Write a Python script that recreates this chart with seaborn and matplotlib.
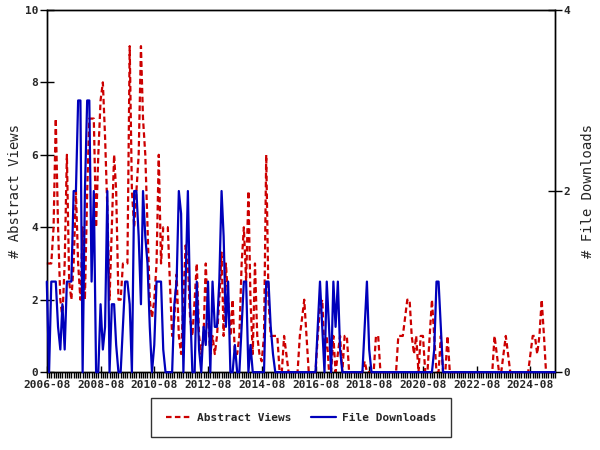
import matplotlib
matplotlib.use("Agg")
import matplotlib.pyplot as plt
import matplotlib.dates as mdates
import numpy as np
import pandas as pd
import seaborn as sns

# monthly counts, starting 2006-08
start_month = "2006-08-01"
end_month = "2025-07-01"

abstract_views = [
    3, 3, 3, 4, 7, 4, 2, 1.5, 3, 6,
    2.5, 2, 3, 5, 3, 2, 4, 2, 5, 7,
    7, 7, 4, 6, 7.5, 8, 6.5, 4.5, 2, 4,
    6, 5, 2, 2, 3, 3, 3, 9, 5, 4,
    5, 6, 9, 7, 6, 4, 2, 1.5, 2, 3,
    6, 3, 4, 4, 4, 2.5, 1, 1.5, 2.7, 1,
    0.5, 2, 3.5, 3, 1.5, 1, 2, 3, 1, 0.5,
    1, 3, 1.5, 0.5, 1, 0.5, 1, 2, 3.3, 1,
    3, 2, 1, 2, 0.5, 0.5, 1, 3, 4, 2.5,
    5, 2, 0.5, 3, 1, 0.5, 0.3, 1, 6, 2,
    1, 1, 1, 1, 0, 0, 1, 0.5, 0, 0,
    0, 0, 0, 1, 1.5, 2, 1, 0, 0, 0,
    0, 1, 1.8, 2, 0.5, 1, 0, 0, 1, 0,
    0.5, 1, 0, 1, 1, 0, 0, 0, 0, 0,
    0, 0, 0.3, 0, 0, 0, 0, 1, 1, 0,
    0, 0, 0, 0, 0, 0, 0, 1, 1, 1,
    1.5, 2, 2, 1, 0.5, 1, 0, 1, 1, 0,
    0, 1, 2, 1, 0, 0, 1, 0, 0, 1,
    0, 0, 0, 0, 0, 0, 0, 0, 0, 0,
    0, 0, 0, 0, 0, 0, 0, 0, 0, 0,
    1, 0.5, 0, 0, 0.5, 1, 0.5, 0, 0, 0,
    0, 0, 0, 0, 0, 0, 0.5, 1, 1, 0.5,
    1, 2, 1, 0, 0, 0, 0, 0,
]

file_downloads = [
    1, 0, 1, 1, 1, 0.5, 0.25, 0.75, 0.25, 1,
    1, 1, 2, 2, 3, 3, 0, 2, 3, 3,
    1, 2, 0, 0, 0.75, 0.25, 0.5, 2, 0, 0.75,
    0.75, 0.3, 0, 0, 0.5, 1, 1, 0.75, 0, 2,
    2, 1.5, 0.75, 2, 1.5, 1.2, 0.5, 0, 0.3, 1,
    1, 1, 0.25, 0, 0, 0, 0, 0.75, 1, 2,
    1.75, 0, 1, 2, 0.75, 0, 0, 1, 0.25, 0,
    0.5, 0.3, 1, 0, 1, 0.5, 0.5, 1, 2, 1.5,
    0.5, 1, 0, 0, 0.3, 0, 0, 0.5, 1, 1,
    0, 0.3, 0, 0, 0, 0, 0, 0, 1, 1,
    0.5, 0.2, 0, 0, 0, 0, 0, 0, 0, 0,
    0, 0, 0, 0, 0, 0, 0, 0, 0, 0,
    0, 0.5, 1, 0.5, 0, 1, 0.5, 0, 1, 0.5,
    1, 0.25, 0, 0, 0, 0, 0, 0, 0, 0,
    0, 0, 0.5, 1, 0.25, 0, 0, 0, 0, 0,
    0, 0, 0, 0, 0, 0, 0, 0, 0, 0,
    0, 0, 0, 0, 0, 0, 0, 0, 0, 0,
    0, 0, 0, 0.25, 1, 1, 0.5, 0, 0, 0,
    0, 0, 0, 0, 0, 0, 0, 0, 0, 0,
    0, 0, 0, 0, 0, 0, 0, 0, 0, 0,
    0, 0, 0, 0, 0, 0, 0, 0, 0, 0,
    0, 0, 0, 0, 0, 0, 0, 0, 0, 0,
    0, 0, 0, 0, 0, 0, 0, 0,
]

red = "#cc0000"
blue = "#0000bb"

sns.set_theme(style="ticks")
plt.rcParams["font.family"] = ["DejaVu Sans Mono", "DejaVu Sans"]
plt.rcParams["font.weight"] = "bold"

dates = pd.date_range(start_month, periods=len(abstract_views), freq="MS")
df = pd.DataFrame({"month": dates, "views": abstract_views,
                   "downloads": file_downloads})

fig = plt.figure(figsize=(6, 4.5), dpi=100)
ax = fig.add_axes([0.078, 0.173, 0.847, 0.805])
ax2 = ax.twinx()

sns.lineplot(data=df, x="month", y="views", ax=ax, color=red,
             linewidth=1.6, label="Abstract Views")
ax.lines[0].set_dashes((2.5, 1.5))
sns.lineplot(data=df, x="month", y="downloads", ax=ax2, color=blue,
             linewidth=1.6, label="File Downloads")
for ln in ax.lines + ax2.lines:
    ln.set_clip_on(False)
    ln.set_zorder(3)

h1, l1 = ax.get_legend_handles_labels()
h2, l2 = ax2.get_legend_handles_labels()
for a in (ax, ax2):
    if a.get_legend() is not None:
        a.get_legend().remove()

ax.set_xlim(pd.Timestamp(start_month), pd.Timestamp(end_month))
ax.set_ylim(0, 10)
ax2.set_ylim(0, 4)
ax.set_yticks([0, 2, 4, 6, 8, 10])
ax2.set_yticks([0, 2, 4])

ax.xaxis.set_major_locator(mdates.YearLocator(base=2, month=8, day=1))
ax.xaxis.set_major_formatter(mdates.DateFormatter("%Y-%m"))
ax.xaxis.set_minor_locator(mdates.MonthLocator())

ax.tick_params(axis="x", which="major", direction="inout", length=9,
               width=1, labelsize=8, pad=1, color="black")
ax.tick_params(axis="x", which="minor", direction="out", length=4,
               width=1, color="black", bottom=True)
ax.tick_params(axis="y", which="major", direction="inout", length=10,
               width=1, labelsize=8, pad=1, color="black")
ax2.tick_params(axis="y", which="major", direction="inout", length=10,
                width=1, labelsize=8, pad=1, color="black")

ax.set_xlabel("")
ax.set_ylabel("# Abstract Views", fontsize=10, labelpad=2)
ax2.set_ylabel("# File Downloads", fontsize=10, labelpad=8)

for a in (ax, ax2):
    for s in a.spines.values():
        s.set_color("black")
        s.set_linewidth(1)

leg = fig.legend(h1 + h2, l1 + l2, loc="center", bbox_to_anchor=(0.502, 0.072),
                 ncol=2, fontsize=8, frameon=True, fancybox=False,
                 edgecolor="black", borderpad=1.3, columnspacing=1.8,
                 handlelength=2.2, handletextpad=0.6)
leg.get_frame().set_linewidth(1)

fig.savefig("out.png", dpi=100)
